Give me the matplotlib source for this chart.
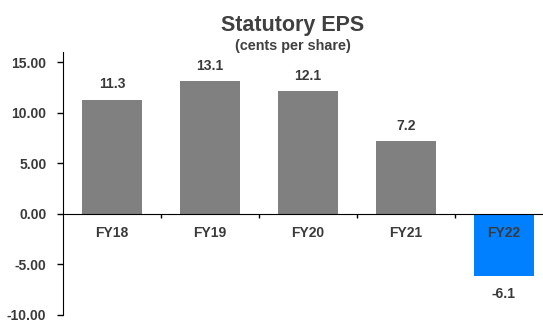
import numpy as np
import matplotlib
matplotlib.use("Agg")
import matplotlib.pyplot as plt
from matplotlib.ticker import FormatStrFormatter, FixedLocator

plt.rcParams['font.family'] = ['Liberation Sans', 'DejaVu Sans']
plt.rcParams['font.weight'] = 'bold'
plt.rcParams['axes.unicode_minus'] = False

years = ['FY18', 'FY19', 'FY20', 'FY21', 'FY22']
eps = [11.3, 13.1, 12.1, 7.2, -6.1]
colors = ['#808080', '#808080', '#808080', '#808080', '#0080ff']
yticks = [-10, -5, 0, 5, 10, 15]

txt = '#3a3a3a'

fig = plt.figure(figsize=(5.43, 3.22), dpi=100)
ax = fig.add_axes([63 / 543, 7 / 322, 490 / 543, 263 / 322])

x = np.arange(len(years))
bars = ax.bar(x, eps, width=0.62, color=colors, zorder=1)

for xi, v in zip(x, eps):
    if v >= 0:
        ax.annotate(f'{v:.1f}', (xi, v), xytext=(0, 6), textcoords='offset points',
                    ha='center', va='bottom', fontsize=10, color=txt, fontweight='bold')
    else:
        ax.annotate(f'{v:.1f}', (xi, v), xytext=(0, -8), textcoords='offset points',
                    ha='center', va='top', fontsize=10, color=txt, fontweight='bold')

ax.set_xlim(-0.5, len(years) - 0.5)
ax.set_ylim(-10, 16)
ax.set_yticks(yticks)
ax.yaxis.set_major_formatter(FormatStrFormatter('%.2f'))
ax.tick_params(axis='y', direction='out', length=4, width=1, pad=8,
               labelsize=10, labelcolor=txt, color='black')

ax.set_xticks(x)
ax.set_xticklabels(years)
ax.xaxis.set_minor_locator(FixedLocator(x[:-1] + 0.5))
ax.tick_params(axis='x', which='major', length=0, pad=9, labelsize=10, labelcolor=txt)
ax.tick_params(axis='x', which='minor', direction='out', length=3, width=1, color='black')

ax.spines['bottom'].set_position(('data', 0))
for s in ['top', 'right']:
    ax.spines[s].set_visible(False)
ax.spines['left'].set_color('black')
ax.spines['bottom'].set_color('black')

fig.text(293 / 543, 1 - 31 / 322, 'Statutory EPS', ha='center', va='baseline',
         fontsize=15.5, fontweight='bold', color='#404040')
fig.text(293 / 543, 1 - 50 / 322, '(cents per share)', ha='center', va='baseline',
         fontsize=10.4, fontweight='bold', color='#404040')

fig.savefig('out.png', dpi=100)
